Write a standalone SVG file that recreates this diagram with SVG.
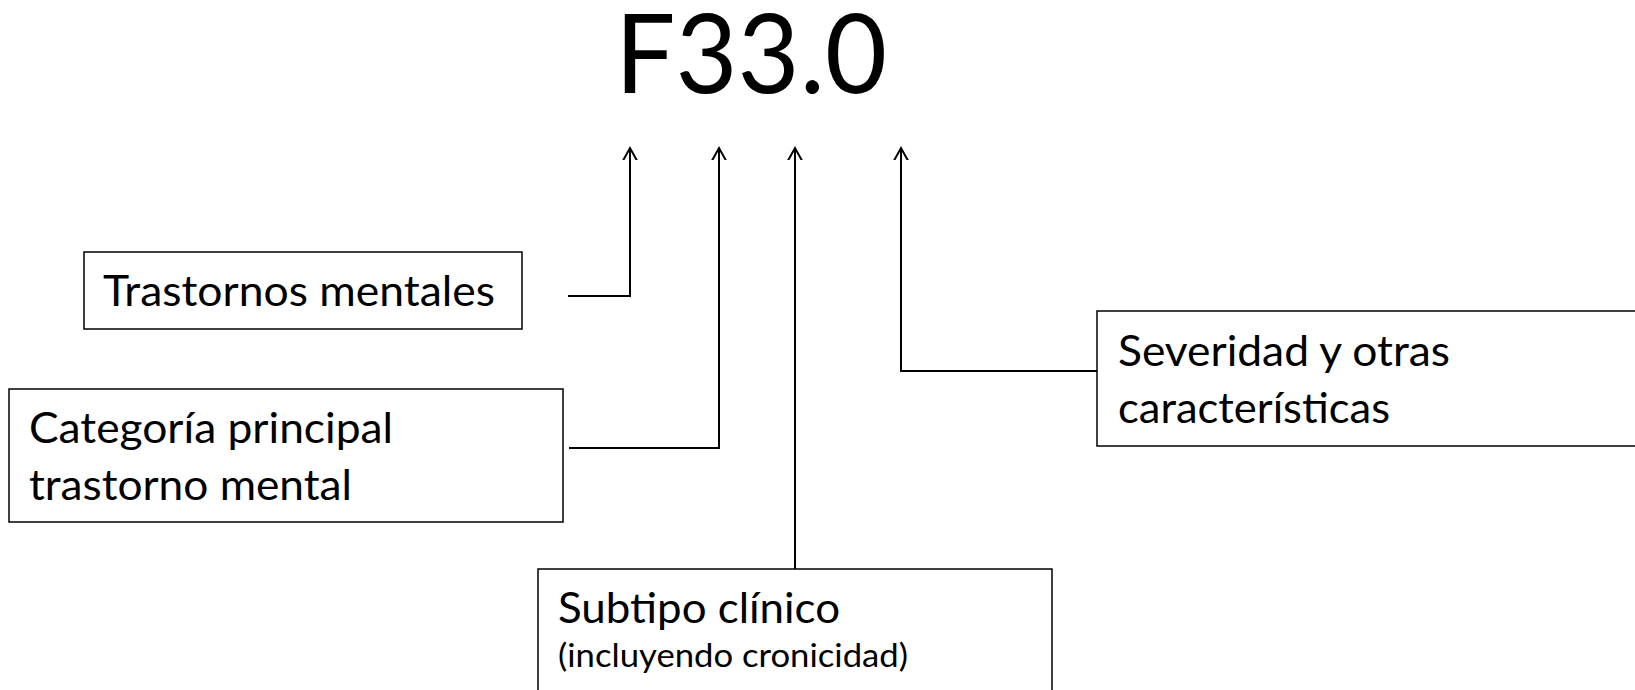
<svg xmlns="http://www.w3.org/2000/svg" width="1635" height="690" viewBox="0 0 1635 690">
<style>
.box{fill:#fff;stroke:#000;stroke-width:1.5}
.lbl{font-family:Lato,"Open Sans",sans-serif;font-size:42px;fill:#000}
.sm{font-size:33px}
.con{fill:none;stroke:#000;stroke-width:2}
</style>
<defs>
<marker id="ah" markerUnits="userSpaceOnUse" markerWidth="24" markerHeight="24" viewBox="-12 -12 24 24" refX="0" refY="0" orient="auto">
<path d="M-18,-10 L0,0 L-18,10" fill="none" stroke="#000" stroke-width="2"/>
</marker>
</defs>
<rect width="1635" height="690" fill="#fff"/>
<g id="code">
<text x="615" y="93" font-family="Lato,'Open Sans',sans-serif" font-size="111" textLength="272" lengthAdjust="spacingAndGlyphs">F33.0</text>
</g>
<g id="connectors">
<polyline class="con" points="568,296 630,296 630,148" marker-end="url(#ah)"/>
<polyline class="con" points="569,448 719,448 719,148" marker-end="url(#ah)"/>
<polyline class="con" points="795,569 795,148" marker-end="url(#ah)"/>
<polyline class="con" points="1097,371 901,371 901,148" marker-end="url(#ah)"/>
</g>
<g id="n1">
<rect class="box" x="84" y="252" width="438" height="77"/>
<text class="lbl" x="103" y="306" textLength="392" lengthAdjust="spacingAndGlyphs">Trastornos mentales</text>
</g>
<g id="n2">
<rect class="box" x="9" y="389" width="554" height="133"/>
<text class="lbl" x="29" y="443" textLength="364" lengthAdjust="spacingAndGlyphs">Categoría principal</text>
<text class="lbl" x="29" y="500" textLength="323" lengthAdjust="spacingAndGlyphs">trastorno mental</text>
</g>
<g id="n3">
<rect class="box" x="538" y="569" width="514" height="140"/>
<text class="lbl" x="558" y="623" textLength="282" lengthAdjust="spacingAndGlyphs">Subtipo clínico</text>
<text class="lbl sm" x="558" y="667" textLength="350" lengthAdjust="spacingAndGlyphs">(incluyendo cronicidad)</text>
</g>
<g id="n4">
<rect class="box" x="1097" y="311" width="560" height="135"/>
<text class="lbl" x="1118" y="366" textLength="332" lengthAdjust="spacingAndGlyphs">Severidad y otras</text>
<text class="lbl" x="1118" y="423" textLength="272" lengthAdjust="spacingAndGlyphs">características</text>
</g>
</svg>
